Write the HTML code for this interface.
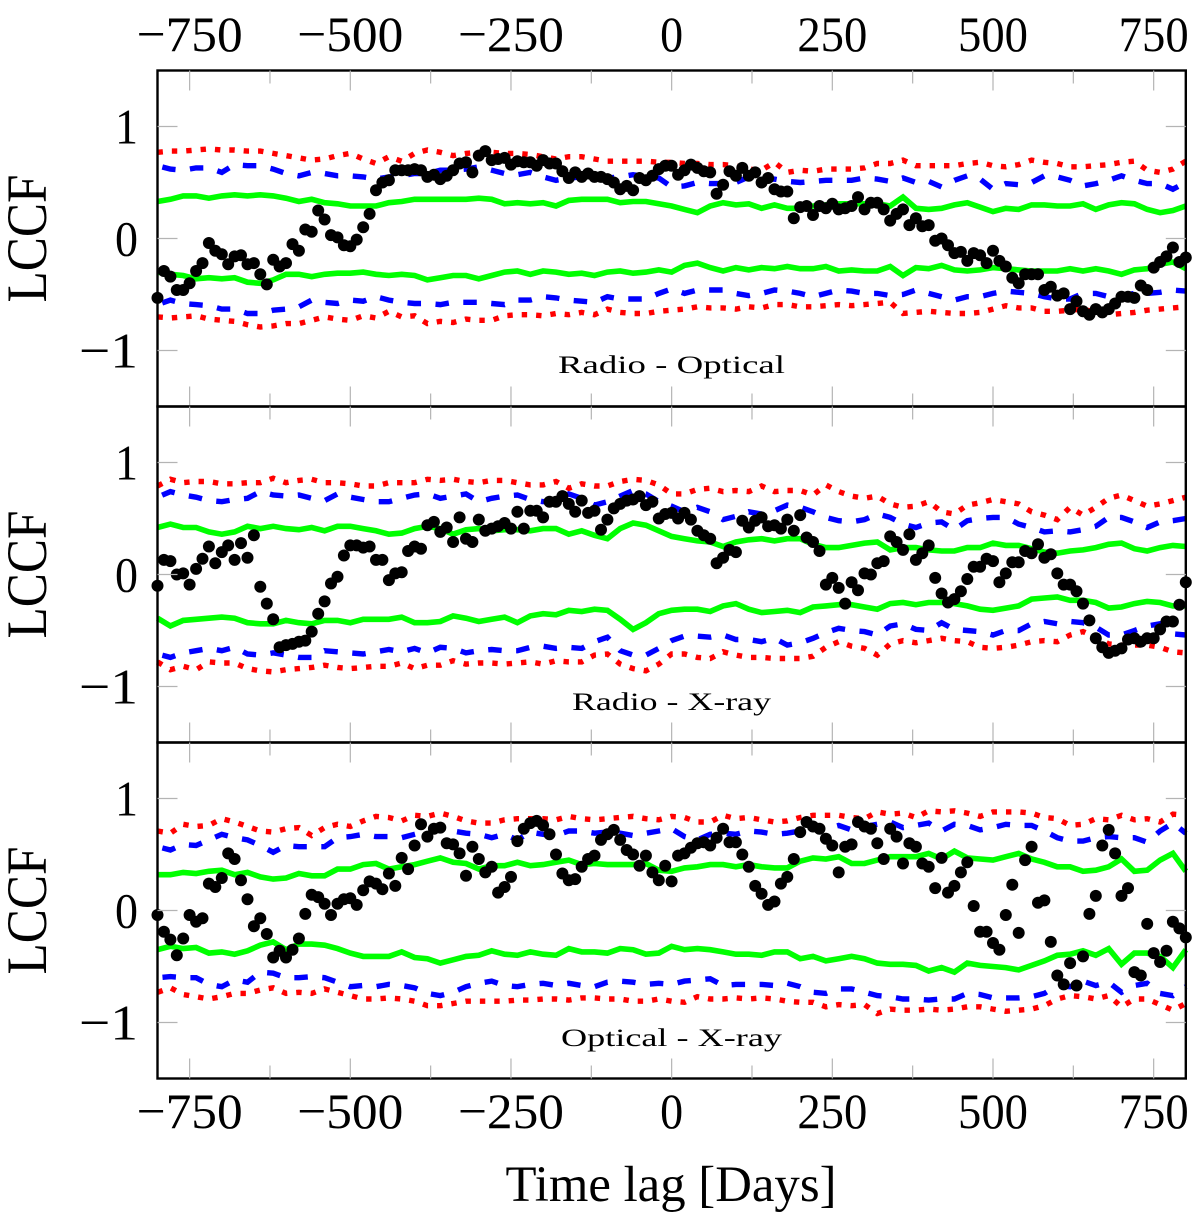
<!DOCTYPE html>
<html lang="en">
<head>
<meta charset="utf-8">
<title>LCCF vs time lag</title>
<style>
html,body{margin:0;padding:0;background:#fff;}
svg{display:block;font-family:"Liberation Serif",serif;}
</style>
</head>
<body>
<svg id="chart" xmlns="http://www.w3.org/2000/svg" width="1200" height="1221" viewBox="0 0 1200 1221">
<rect x="0" y="0" width="1200" height="1221" fill="#ffffff"/>
</svg>
<script>
const xTicksMajor = [-750,-500,-250,0,250,500,750];
const xTicksMinor = [-625,-375,-125,125,375,625];
const xTickLabels = ["\u2212750","\u2212500","\u2212250","0","250","500","750"];
const yTicks = [1,0,-1];
const yTickLabels = ["1","0","\u22121"];
const panelTitles = ["Radio - Optical","Radio - X-ray","Optical - X-ray"];
const dotLags = Array.from({length:161},(_,i)=>-800+i*10);
const lineLags = Array.from({length:81},(_,i)=>-800+i*20);

const p1Dots = [-.53,-.29,-.34,-.46,-.46,-.40,-.29,-.22,-.04,-.11,-.14,-.23,-.16,-.15,-.23,-.22,-.32,-.41,-.19,-.25,-.22,-.05,-.11,.08,.06,.25,.17,.03,.01,-.06,-.07,-.01,.10,.22,.43,.50,.52,.61,.61,.61,.62,.61,.55,.57,.53,.56,.61,.67,.68,.59,.74,.78,.70,
.71,.72,.66,.69,.68,.68,.65,.70,.67,.67,.60,.54,.59,.55,.58,.55,.55,.53,.50,.44,.47,.43,.54,.52,.56,.62,.65,.65,.57,.61,.66,.63,.60,.59,.40,.48,.60,.56,.63,.56,.59,.50,.54,.44,.42,.42,.18,.28,.29,.21,.29,.27,.31,.26,
.27,.29,.37,.26,.32,.32,.26,.16,.22,.26,.12,.18,.11,.12,-.02,0,-.06,-.13,-.12,-.20,-.13,-.15,-.22,-.11,-.20,-.25,-.35,-.40,-.32,-.32,-.32,-.46,-.43,-.51,-.49,-.63,-.56,-.65,-.68,-.63,-.66,-.63,-.58,-.52,-.52,-.53,-.42,-.46,-.26,-.21,-.16,-.08,-.21,-.17];
const p1GreenUpper = [.33,.35,.38,.38,.36,.38,.39,.38,.39,.38,.36,.33,.35,.32,.31,.29,.29,.29,.32,.33,.35,.35,.35,.35,.35,.36,.35,
.31,.32,.31,.32,.29,.34,.35,.35,.35,.32,.33,.33,.31,.29,.26,.23,.29,.32,.30,.31,.27,.30,.27,.27,.29,.30,.31,
.31,.31,.31,.29,.37,.27,.26,.27,.30,.32,.28,.24,.27,.26,.30,.30,.29,.29,.31,.26,.30,.32,.31,.26,.23,.25,.29];
const p1GreenLower = [-.30,-.32,-.33,-.36,-.35,-.36,-.35,-.39,-.40,-.37,-.32,-.32,-.34,-.32,-.31,-.31,-.30,-.32,-.33,-.32,-.33,-.37,-.35,-.33,-.33,-.36,-.33,
-.30,-.29,-.32,-.29,-.30,-.32,-.31,-.33,-.30,-.29,-.31,-.30,-.28,-.30,-.24,-.22,-.26,-.29,-.26,-.28,-.26,-.27,-.25,-.27,-.27,-.25,-.29,
-.28,-.29,-.29,-.25,-.33,-.26,-.27,-.24,-.28,-.29,-.28,-.26,-.27,-.28,-.29,-.29,-.29,-.27,-.29,-.27,-.29,-.32,-.28,-.27,-.23,-.21,-.27];
const p1BlueUpper = [.65,.62,.61,.63,.63,.59,.66,.65,.65,.62,.58,.56,.59,.58,.56,.56,.55,.53,.55,.56,.58,.58,.61,.61,.62,.64,.61,
.58,.57,.59,.55,.52,.54,.55,.55,.54,.55,.57,.55,.54,.46,.47,.50,.49,.49,.50,.55,.52,.53,.51,.50,.51,.52,.52,
.52,.54,.53,.51,.54,.50,.51,.46,.52,.56,.53,.44,.49,.48,.50,.56,.55,.52,.47,.49,.52,.56,.52,.49,.49,.44,.50];
const p1BlueLower = [-.59,-.55,-.58,-.59,-.60,-.63,-.63,-.67,-.67,-.64,-.63,-.61,-.55,-.57,-.58,-.55,-.56,-.52,-.55,-.57,-.58,-.58,-.59,-.57,-.57,-.57,-.58,
-.59,-.55,-.55,-.52,-.53,-.55,-.56,-.57,-.52,-.54,-.54,-.54,-.49,-.45,-.49,-.46,-.46,-.46,-.49,-.51,-.49,-.46,-.47,-.49,-.52,-.49,-.46,
-.47,-.49,-.49,-.51,-.50,-.46,-.49,-.52,-.55,-.52,-.52,-.49,-.47,-.48,-.49,-.52,-.54,-.54,-.49,-.49,-.52,-.51,-.49,-.49,-.48,-.46,-.47];
const p1RedUpper = [.77,.78,.78,.79,.80,.79,.79,.78,.78,.76,.74,.72,.70,.71,.74,.76,.71,.67,.73,.69,.76,.79,.77,.74,.76,.77,.77,
.76,.76,.75,.73,.71,.73,.73,.71,.69,.69,.69,.69,.68,.68,.67,.67,.66,.66,.65,.62,.61,.68,.59,.61,.60,.62,.62,
.62,.63,.67,.67,.70,.65,.65,.65,.65,.67,.68,.65,.64,.66,.70,.68,.67,.64,.64,.65,.66,.68,.69,.61,.59,.62,.69];
const p1RedLower = [-.70,-.71,-.70,-.69,-.72,-.73,-.74,-.77,-.79,-.78,-.76,-.76,-.73,-.70,-.72,-.73,-.69,-.71,-.65,-.70,-.69,-.76,-.74,-.75,-.72,-.73,-.73,
-.69,-.68,-.68,-.69,-.67,-.68,-.66,-.68,-.63,-.66,-.67,-.67,-.65,-.64,-.63,-.61,-.62,-.62,-.63,-.61,-.62,-.59,-.59,-.61,-.61,-.60,-.59,
-.60,-.59,-.58,-.57,-.67,-.66,-.65,-.66,-.67,-.67,-.66,-.63,-.60,-.62,-.62,-.65,-.65,-.64,-.63,-.66,-.68,-.67,-.66,-.64,-.63,-.62,-.61];

const p2Dots = [-.10,.13,.12,0,.01,-.09,.05,.14,.25,.10,.20,.26,.13,.28,.15,.35,-.11,-.26,-.40,-.65,-.63,-.62,-.60,-.59,-.51,-.35,-.24,-.08,-.02,.17,.26,.26,.24,.25,.13,.13,-.05,.01,.02,.21,.25,.23,.44,.47,.38,.42,.29,.51,.32,.29,.49,.39,.41,
.43,.46,.41,.56,.41,.57,.57,.51,.65,.65,.70,.63,.56,.66,.55,.57,.40,.49,.59,.63,.66,.67,.70,.62,.65,.50,.54,.55,.50,.55,.49,.39,.35,.32,.10,.15,.22,.20,.48,.42,.48,.51,.43,.44,.41,.49,.39,.53,.33,.29,.21,-.09,-.03,-.12,
-.26,-.07,-.14,.01,0,.10,.12,.34,.29,.22,.36,.13,.19,.26,-.03,-.17,-.25,-.22,-.15,-.04,.07,.07,.14,.12,-.07,.01,.11,.11,.21,.19,.27,.15,.18,.01,-.09,-.09,-.15,-.26,-.41,-.57,-.65,-.70,-.68,-.66,-.58,-.57,-.60,-.57,-.57,-.49,-.42,-.42,-.27,-.07];
const p2GreenUpper = [.42,.45,.42,.42,.38,.36,.38,.43,.41,.43,.41,.40,.42,.39,.43,.43,.41,.39,.36,.37,.41,.43,.41,.36,.40,.41,.39,
.40,.40,.39,.41,.41,.36,.39,.35,.32,.41,.46,.44,.39,.34,.32,.30,.29,.25,.29,.31,.32,.30,.32,.32,.27,.24,.24,
.26,.28,.29,.22,.24,.24,.22,.21,.21,.24,.24,.28,.26,.26,.23,.20,.19,.21,.22,.24,.27,.28,.23,.21,.24,.26,.25];
const p2GreenLower = [-.39,-.46,-.41,-.40,-.39,-.38,-.39,-.43,-.44,-.44,-.41,-.43,-.44,-.41,-.41,-.43,-.40,-.40,-.40,-.38,-.43,-.43,-.42,-.37,-.39,-.42,-.40,
-.38,-.43,-.37,-.35,-.36,-.32,-.33,-.31,-.32,-.40,-.49,-.43,-.35,-.32,-.31,-.31,-.33,-.28,-.26,-.31,-.34,-.33,-.32,-.34,-.29,-.28,-.27,
-.27,-.29,-.31,-.26,-.25,-.27,-.25,-.25,-.26,-.28,-.31,-.32,-.30,-.28,-.22,-.21,-.20,-.23,-.23,-.25,-.30,-.29,-.26,-.24,-.25,-.28,-.28];
const p2BlueUpper = [.69,.74,.71,.69,.66,.65,.67,.68,.74,.71,.70,.71,.68,.66,.72,.69,.67,.65,.65,.68,.71,.72,.68,.70,.72,.65,.68,
.70,.71,.67,.65,.66,.72,.68,.62,.65,.70,.75,.72,.65,.61,.56,.60,.56,.49,.52,.56,.54,.57,.62,.60,.56,.51,.48,
.47,.49,.54,.51,.45,.42,.46,.47,.40,.48,.50,.51,.51,.45,.42,.38,.39,.38,.40,.43,.51,.51,.47,.42,.47,.48,.50];
const p2BlueLower = [-.71,-.74,-.70,-.68,-.66,-.68,-.65,-.71,-.72,-.70,-.72,-.74,-.74,-.68,-.69,-.70,-.71,-.69,-.67,-.69,-.66,-.70,-.65,-.66,-.70,-.68,-.67,
-.68,-.68,-.65,-.64,-.66,-.65,-.66,-.60,-.56,-.68,-.72,-.72,-.66,-.59,-.55,-.55,-.56,-.54,-.58,-.58,-.60,-.57,-.63,-.61,-.57,-.52,-.48,
-.50,-.51,-.54,-.46,-.44,-.49,-.50,-.43,-.49,-.50,-.51,-.54,-.50,-.50,-.44,-.42,-.44,-.42,-.43,-.47,-.54,-.54,-.50,-.46,-.44,-.53,-.54];
const p2RedUpper = [.79,.85,.82,.83,.83,.81,.81,.82,.82,.86,.82,.84,.85,.82,.82,.81,.79,.79,.82,.82,.82,.85,.84,.85,.83,.82,.84,
.84,.82,.80,.80,.83,.77,.81,.79,.79,.83,.85,.84,.80,.72,.72,.76,.77,.74,.75,.74,.79,.74,.75,.75,.71,.80,.74,
.70,.68,.70,.63,.60,.61,.65,.56,.54,.62,.64,.67,.65,.63,.56,.53,.49,.60,.53,.60,.68,.71,.66,.61,.63,.66,.69];
const p2RedLower = [-.78,-.85,-.82,-.85,-.78,-.79,-.79,-.84,-.86,-.87,-.85,-.84,-.83,-.81,-.83,-.84,-.83,-.82,-.82,-.79,-.84,-.81,-.81,-.77,-.80,-.79,-.79,
-.80,-.79,-.78,-.80,-.77,-.78,-.78,-.72,-.71,-.80,-.84,-.86,-.80,-.71,-.71,-.74,-.75,-.69,-.72,-.74,-.74,-.75,-.75,-.75,-.73,-.65,-.60,
-.64,-.66,-.72,-.62,-.59,-.61,-.59,-.57,-.59,-.60,-.65,-.66,-.65,-.63,-.60,-.59,-.60,-.54,-.51,-.56,-.62,-.63,-.63,-.63,-.65,-.69,-.70];

const p3Dots = [-.04,-.19,-.26,-.40,-.25,-.04,-.10,-.07,.24,.21,.29,.51,.46,.27,.10,-.14,-.07,-.21,-.42,-.36,-.42,-.35,-.25,-.03,.14,.12,.06,-.04,.06,.10,.11,.05,.18,.26,.24,.19,.33,.22,.47,.37,.58,.77,.66,.73,.74,.60,.59,.51,.31,.57,.46,.34,.39,
.16,.21,.30,.62,.73,.78,.80,.76,.68,.50,.33,.27,.28,.39,.46,.49,.63,.68,.72,.63,.54,.50,.40,.49,.34,.27,.40,.26,.49,.51,.56,.60,.61,.58,.65,.73,.61,.61,.50,.39,.22,.15,.05,.08,.24,.30,.46,.70,.79,.75,.73,.64,.58,.34,
.57,.59,.79,.75,.73,.60,.46,.73,.66,.42,.60,.57,.42,.39,.20,.47,.16,.22,.34,.43,.04,-.19,-.19,-.29,-.35,-.04,.23,-.20,.45,.57,.07,.09,-.28,-.58,-.66,-.47,-.67,-.41,-.03,.13,.58,.72,.51,.13,.20,-.55,-.58,-.12,-.38,-.46,-.36,-.10,-.16,-.24];
const p3GreenUpper = [.32,.32,.34,.33,.35,.36,.32,.34,.30,.28,.29,.33,.31,.31,.37,.37,.41,.42,.37,.39,.41,.44,.47,.43,.42,.37,.40,
.40,.43,.40,.41,.43,.45,.41,.42,.41,.41,.41,.42,.36,.35,.38,.39,.41,.41,.39,.41,.39,.38,.38,.44,.47,.46,.48,
.42,.42,.45,.48,.48,.48,.51,.46,.53,.47,.46,.45,.48,.51,.46,.43,.39,.39,.35,.36,.39,.46,.35,.36,.45,.51,.35];
const p3GreenLower = [-.35,-.32,-.34,-.33,-.38,-.37,-.39,-.36,-.31,-.28,-.35,-.30,-.30,-.31,-.34,-.38,-.41,-.41,-.41,-.37,-.42,-.43,-.47,-.44,-.41,-.40,-.36,
-.39,-.40,-.37,-.39,-.40,-.34,-.37,-.37,-.38,-.34,-.35,-.39,-.38,-.32,-.35,-.34,-.35,-.37,-.39,-.39,-.40,-.37,-.37,-.43,-.41,-.45,-.43,
-.41,-.43,-.47,-.48,-.48,-.49,-.54,-.51,-.55,-.47,-.49,-.50,-.51,-.53,-.49,-.45,-.40,-.39,-.36,-.40,-.34,-.48,-.38,-.38,-.41,-.51,-.35];
const p3BlueUpper = [.57,.54,.59,.58,.63,.68,.65,.63,.58,.52,.58,.57,.57,.57,.65,.66,.68,.66,.66,.65,.68,.71,.72,.71,.69,.68,.65,
.68,.63,.70,.68,.67,.71,.71,.69,.70,.69,.67,.69,.71,.73,.66,.63,.68,.69,.68,.71,.70,.68,.69,.71,.73,.73,.76,
.72,.75,.77,.79,.74,.76,.78,.71,.77,.76,.72,.74,.77,.76,.76,.71,.65,.62,.62,.65,.66,.65,.65,.61,.71,.78,.69];
const p3BlueLower = [-.60,-.59,-.60,-.60,-.66,-.68,-.62,-.64,-.55,-.56,-.60,-.60,-.59,-.60,-.64,-.68,-.67,-.68,-.66,-.67,-.69,-.74,-.76,-.73,-.68,-.65,-.63,
-.67,-.68,-.66,-.65,-.67,-.65,-.67,-.68,-.64,-.63,-.64,-.66,-.65,-.66,-.63,-.62,-.61,-.67,-.66,-.66,-.66,-.67,-.65,-.68,-.73,-.74,-.70,
-.70,-.73,-.76,-.77,-.79,-.79,-.80,-.79,-.79,-.74,-.75,-.78,-.78,-.78,-.77,-.74,-.67,-.68,-.63,-.67,-.64,-.73,-.67,-.65,-.74,-.76,-.68];
const p3RedUpper = [.71,.69,.77,.75,.76,.82,.79,.75,.71,.70,.73,.74,.67,.74,.77,.75,.80,.84,.83,.80,.85,.84,.87,.84,.80,.78,.78,
.81,.82,.82,.82,.81,.84,.82,.81,.82,.83,.84,.82,.81,.84,.83,.79,.79,.85,.82,.83,.81,.79,.80,.83,.85,.85,.85,
.83,.82,.88,.86,.87,.83,.89,.88,.89,.87,.84,.88,.88,.88,.87,.83,.82,.76,.77,.82,.81,.85,.81,.82,.79,.86,.85];
const p3RedLower = [-.73,-.69,-.75,-.77,-.79,-.77,-.74,-.74,-.71,-.69,-.74,-.73,-.74,-.70,-.73,-.76,-.79,-.79,-.78,-.79,-.81,-.85,-.85,-.83,-.81,-.81,-.81,
-.81,-.80,-.80,-.79,-.79,-.80,-.78,-.78,-.79,-.79,-.81,-.81,-.79,-.81,-.82,-.77,-.79,-.79,-.78,-.79,-.78,-.79,-.81,-.82,-.82,-.86,-.84,
-.85,-.84,-.92,-.88,-.89,-.89,-.88,-.89,-.88,-.86,-.86,-.88,-.90,-.89,-.88,-.85,-.79,-.76,-.77,-.79,-.76,-.86,-.79,-.79,-.84,-.89,-.83];

const svg = document.getElementById('chart');
const NS = 'http://www.w3.org/2000/svg';
const plotLeft = 157.5, plotRight = 1185.8, panelHeight = 336, firstTop = 70.5;
const xScale = v => plotLeft + (v + 800) / 1600 * (plotRight - plotLeft);
const yScale = (v, top) => top + (1.5 - v) / 3 * panelHeight;

function make(tag, attrs, parent) {
  const el = document.createElementNS(NS, tag);
  for (const k in attrs) el.setAttribute(k, attrs[k]);
  (parent || svg).appendChild(el);
  return el;
}
function drawSeries(group, lags, values, top, style, name) {
  const pts = values.map((v, i) => xScale(lags[i]).toFixed(1) + ',' + yScale(v, top).toFixed(1)).join(' ');
  const line = make('polyline', Object.assign({points: pts, fill: 'none', 'stroke-linejoin': 'miter', 'stroke-miterlimit': 4}, style), group);
  
  
}
function drawDots(group, lags, values, top) {
  values.forEach((v, i) => {
    const dot = make('circle', {cx: xScale(lags[i]).toFixed(1), cy: yScale(v, top).toFixed(1), r: 6, fill: '#000'}, group);
    
    
  });
}
function drawText(str, x, y, size, anchor, name, extra) {
  const t = make('text', Object.assign({x: x, y: y, 'font-size': size, 'text-anchor': anchor, fill: '#000'}, extra || {}));
  t.textContent = str;
  
  
  return t;
}
function labelWidth(str) {
  return str.length === 4 ? 106 : str.length === 3 ? 70 : str.length === 2 ? 59 : 23;
}

const redStyle = {stroke: '#ff0000', 'stroke-width': 5.4, 'stroke-dasharray': '5.4 9'};
const blueStyle = {stroke: '#0000ff', 'stroke-width': 5.4, 'stroke-dasharray': '13.5 14.5', 'stroke-dashoffset': -5};
const greenStyle = {stroke: '#00ff00', 'stroke-width': 5.6};

const panels = [
  {redU: p1RedUpper, redL: p1RedLower, blueU: p1BlueUpper, blueL: p1BlueLower, greenU: p1GreenUpper, greenL: p1GreenLower, dots: p1Dots},
  {redU: p2RedUpper, redL: p2RedLower, blueU: p2BlueUpper, blueL: p2BlueLower, greenU: p2GreenUpper, greenL: p2GreenLower, dots: p2Dots},
  {redU: p3RedUpper, redL: p3RedLower, blueU: p3BlueUpper, blueL: p3BlueLower, greenU: p3GreenUpper, greenL: p3GreenLower, dots: p3Dots}
];
const titleWidths = [227, 199, 221];
const titleBaselines = [373, 710, 1046];

panels.forEach((p, idx) => {
  const top = firstTop + idx * panelHeight;
  const bottom = top + panelHeight;
  const g = make('g', {});
  
  

  drawSeries(g, lineLags, p.redU, top, redStyle, 'red-upper-dotted-line');
  drawSeries(g, lineLags, p.redL, top, redStyle, 'red-lower-dotted-line');
  drawSeries(g, lineLags, p.blueU, top, blueStyle, 'blue-upper-dashed-line');
  drawSeries(g, lineLags, p.blueL, top, blueStyle, 'blue-lower-dashed-line');
  drawSeries(g, lineLags, p.greenU, top, greenStyle, 'green-upper-line');
  drawSeries(g, lineLags, p.greenL, top, greenStyle, 'green-lower-line');
  drawDots(g, dotLags, p.dots, top);

  const frame = make('rect', {x: plotLeft, y: top, width: plotRight - plotLeft, height: panelHeight, fill: 'none', stroke: '#000', 'stroke-width': 2.4}, g);
  
  

  const tickStyle = {stroke: '#b4b4b4', 'stroke-width': 1.2};
  const addXTick = (v, len) => {
    const x = xScale(v);
    const a = make('line', Object.assign({x1: x, x2: x, y1: top, y2: top + len}, tickStyle), g);
    
    
    const b = make('line', Object.assign({x1: x, x2: x, y1: bottom, y2: bottom - len}, tickStyle), g);
    
    
  };
  xTicksMajor.forEach(v => addXTick(v, 20));
  xTicksMinor.forEach(v => addXTick(v, 13));
  yTicks.forEach((v, i) => {
    const y = yScale(v, top);
    const a = make('line', Object.assign({x1: plotLeft, x2: plotLeft + 20, y1: y, y2: y}, tickStyle), g);
    
    
    const b = make('line', Object.assign({x1: plotRight, x2: plotRight - 20, y1: y, y2: y}, tickStyle), g);
    
    
    drawText(yTickLabels[i], 138, y + 17, 50, 'end', 'y-tick-label', {textLength: labelWidth(yTickLabels[i]), lengthAdjust: 'spacingAndGlyphs'});
  });

  drawText(panelTitles[idx], 671.5, titleBaselines[idx], 25, 'middle', 'panel-title', {textLength: titleWidths[idx], lengthAdjust: 'spacingAndGlyphs'});

  const cy = (top + bottom) / 2;
  drawText('LCCF', 46, cy, 57, 'middle', 'y-axis-title', {transform: 'rotate(-90 46 ' + cy + ')', textLength: 128, lengthAdjust: 'spacingAndGlyphs'});
});

xTicksMajor.forEach((v, i) => {
  drawText(xTickLabels[i], xScale(v), 51, 50, 'middle', 'x-tick-label-top', {textLength: labelWidth(xTickLabels[i]), lengthAdjust: 'spacingAndGlyphs'});
  drawText(xTickLabels[i], xScale(v), 1128, 50, 'middle', 'x-tick-label-bottom', {textLength: labelWidth(xTickLabels[i]), lengthAdjust: 'spacingAndGlyphs'});
});
drawText('Time lag [Days]', 671, 1201, 51, 'middle', 'x-axis-title', {textLength: 331, lengthAdjust: 'spacingAndGlyphs'});
</script>
</body>
</html>
